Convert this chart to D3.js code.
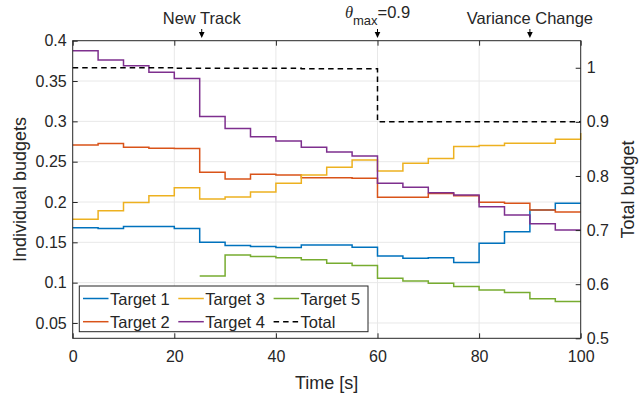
<!DOCTYPE html>
<html>
<head>
<meta charset="utf-8">
<script src="https://cdn.jsdelivr.net/npm/d3@7"></script>
<style>
  body { margin: 0; background: #fff; }
  text { font-family: "Liberation Sans", Arial, sans-serif; fill: #262626; }
</style>
</head>
<body>
<script>
// time samples (every 5 s)
var time = [0, 5, 10, 15, 20, 25, 30, 35, 40, 45, 50, 55, 60, 65, 70, 75, 80, 85, 90, 95, 100];

// individual budgets
var target1 = [0.168, 0.167, 0.1695, 0.1695, 0.167, 0.150, 0.146, 0.1447, 0.1435, 0.1468, 0.1468, 0.144, 0.1332, 0.1303, 0.131, 0.125, 0.149, 0.163, 0.190, 0.1985, 0.1985];
var target2 = [0.2708, 0.2724, 0.268, 0.2667, 0.2662, 0.237, 0.2285, 0.2344, 0.2336, 0.2302, 0.230, 0.2295, 0.206, 0.206, 0.2105, 0.2076, 0.1998, 0.1985, 0.1902, 0.1877, 0.1877];
var target3 = [0.1787, 0.189, 0.1993, 0.2076, 0.2178, 0.2038, 0.2063, 0.2125, 0.2233, 0.2336, 0.2431, 0.2522, 0.2385, 0.248, 0.2538, 0.2687, 0.270, 0.2728, 0.2728, 0.2778, 0.2856];
var target4 = [0.3876, 0.376, 0.369, 0.361, 0.353, 0.306, 0.291, 0.281, 0.2757, 0.268, 0.262, 0.257, 0.2233, 0.2183, 0.2115, 0.2088, 0.194, 0.184, 0.1729, 0.1654, 0.1654];
var target5 = [null, null, null, null, null, 0.1084, 0.1344, 0.1323, 0.131, 0.1283, 0.1242, 0.1212, 0.1056, 0.1022, 0.0994, 0.0952, 0.091, 0.0877, 0.080, 0.0766, 0.0766];
// total budget (right axis)
var total = [1.0, 1.0, 1.0, 1.0, 0.999, 0.999, 0.999, 0.999, 0.999, 0.998, 0.998, 0.998, 0.9, 0.9, 0.9, 0.9, 0.9, 0.9, 0.9, 0.9, 0.9];

var seriesNames = ["Target 1", "Target 2", "Target 3", "Target 4", "Target 5"];
var colors = ["#0072BD", "#D95319", "#EDB120", "#7E2F8E", "#77AC30"];

var xTicks = [0, 20, 40, 60, 80, 100];
var yTicksLeft = [0.05, 0.1, 0.15, 0.2, 0.25, 0.3, 0.35, 0.4];
var yTicksRight = [0.5, 0.6, 0.7, 0.8, 0.9, 1];

// events marked above the plot
var events = [
  {t: 25.4, label: "New Track"},
  {t: 60, label: "theta"},
  {t: 90, label: "Variance Change"}
];

var W = 644, H = 395;
var margin = {top: 40.7, right: 63.3, bottom: 56.7, left: 72.7};
var width = W - margin.left - margin.right,
    height = H - margin.top - margin.bottom;

var x = d3.scaleLinear().domain([0, 100]).range([0, width]);
var yL = d3.scaleLinear().domain([0.031, 0.4]).range([height, 0]);
var yR = d3.scaleLinear().domain([0.5, 1.05]).range([height, 0]);

var svg = d3.select("body").append("svg")
    .attr("width", W)
    .attr("height", H);

var g = svg.append("g")
    .attr("transform", "translate(" + margin.left + "," + margin.top + ")");

// grid
g.append("g").selectAll("line").data(xTicks.slice(1, -1)).enter().append("line")
    .attr("x1", function(d) { return x(d); }).attr("x2", function(d) { return x(d); })
    .attr("y1", 0).attr("y2", height)
    .attr("stroke", "#e8e8e8").attr("stroke-width", 1);
g.append("g").selectAll("line").data(yTicksLeft.slice(0, -1)).enter().append("line")
    .attr("x1", 0).attr("x2", width)
    .attr("y1", function(d) { return yL(d); }).attr("y2", function(d) { return yL(d); })
    .attr("stroke", "#e8e8e8").attr("stroke-width", 1);

// lines
var lineL = d3.line()
    .defined(function(d) { return d.v != null; })
    .x(function(d) { return x(d.t); })
    .y(function(d) { return yL(d.v); })
    .curve(d3.curveStepAfter);

var all = [target1, target2, target3, target4, target5];
all.forEach(function(s, i) {
  var pts = time.map(function(t, j) { return {t: t, v: s[j]}; });
  g.append("path")
      .datum(pts)
      .attr("fill", "none")
      .attr("stroke", colors[i])
      .attr("stroke-width", 1.5)
      .attr("d", lineL);
});

var lineR = d3.line()
    .x(function(d) { return x(d.t); })
    .y(function(d) { return yR(d.v); })
    .curve(d3.curveStepAfter);

g.append("path")
    .datum(time.map(function(t, j) { return {t: t, v: total[j]}; }))
    .attr("fill", "none")
    .attr("stroke", "#000")
    .attr("stroke-width", 1.5)
    .attr("stroke-dasharray", "5.5,4")
    .attr("d", lineR);

// axes
var axisColor = "#262626";
function styleAxis(sel) {
  sel.select(".domain").remove();
  sel.selectAll(".tick line").attr("stroke", axisColor);
  sel.selectAll(".tick text").attr("font-size", "16px").attr("fill", axisColor)
      .style("font-family", "'Liberation Sans', Arial, sans-serif");
}

g.append("g")
    .attr("transform", "translate(0," + height + ")")
    .call(d3.axisBottom(x).tickValues(xTicks).tickSizeInner(-5).tickSizeOuter(0).tickPadding(12))
    .call(styleAxis);
g.append("g")
    .call(d3.axisTop(x).tickValues(xTicks).tickSizeInner(-5).tickSizeOuter(0).tickFormat(""))
    .call(styleAxis);
g.append("g")
    .call(d3.axisLeft(yL).tickValues(yTicksLeft).tickSizeInner(-5).tickSizeOuter(0).tickPadding(6)
      .tickFormat(function(d) { return d3.format("")(+d.toFixed(2)); }))
    .call(styleAxis);
g.append("g")
    .attr("transform", "translate(" + width + ",0)")
    .call(d3.axisRight(yR).tickValues(yTicksRight).tickSizeInner(-5).tickSizeOuter(0).tickPadding(6)
      .tickFormat(function(d) { return d3.format("")(+d.toFixed(1)); }))
    .call(styleAxis);

// frame
g.append("rect")
    .attr("x", 0).attr("y", 0).attr("width", width).attr("height", height)
    .attr("fill", "none").attr("stroke", axisColor).attr("stroke-width", 1);

// axis labels
svg.append("text")
    .attr("x", margin.left + width / 2).attr("y", 389)
    .attr("text-anchor", "middle").attr("font-size", "18px")
    .text("Time [s]");
svg.append("text")
    .attr("transform", "translate(26," + (margin.top + height / 2) + ") rotate(-90)")
    .attr("text-anchor", "middle").attr("font-size", "18px")
    .text("Individual budgets");
svg.append("text")
    .attr("transform", "translate(634," + (margin.top + height / 2) + ") rotate(-90)")
    .attr("text-anchor", "middle").attr("font-size", "18px")
    .text("Total budget");

// event markers
events.forEach(function(e) {
  var ex = margin.left + x(e.t);
  svg.append("line")
      .attr("x1", ex).attr("x2", ex).attr("y1", 29).attr("y2", 33)
      .attr("stroke", "#000").attr("stroke-width", 1);
  svg.append("path")
      .attr("d", "M" + (ex - 2.8) + ",32 L" + (ex + 2.8) + ",32 L" + ex + ",38 Z")
      .attr("fill", "#000");
  if (e.label === "theta") {
    var t = svg.append("text").attr("x", ex).attr("y", 18)
        .attr("text-anchor", "middle").attr("font-size", "16.5px");
    t.append("tspan").attr("font-style", "italic")
        .style("font-family", "'Liberation Serif', 'Times New Roman', serif").text("θ");
    t.append("tspan").attr("dy", 7).attr("font-size", "13px").text("max");
    t.append("tspan").attr("dy", -7).text("=0.9");
  } else {
    svg.append("text").attr("x", ex).attr("y", 24)
        .attr("text-anchor", "middle").attr("font-size", "16.5px")
        .text(e.label);
  }
});

// legend
var legend = svg.append("g");
legend.append("rect")
    .attr("x", 79.3).attr("y", 286).attr("width", 288.7).attr("height", 45.7)
    .attr("fill", "#fff").attr("stroke", axisColor).attr("stroke-width", 1);

var legendItems = [
  {name: seriesNames[0], color: colors[0], dash: null},
  {name: seriesNames[2], color: colors[2], dash: null},
  {name: seriesNames[4], color: colors[4], dash: null},
  {name: seriesNames[1], color: colors[1], dash: null},
  {name: seriesNames[3], color: colors[3], dash: null},
  {name: "Total", color: "#000", dash: "5.5,4"}
];
legendItems.forEach(function(d, i) {
  var col = i % 3, row = Math.floor(i / 3);
  var lx = 83 + col * 95.3, ly = 298.5 + row * 23.2;
  legend.append("line")
      .attr("x1", lx).attr("x2", lx + 25.5).attr("y1", ly).attr("y2", ly)
      .attr("stroke", d.color).attr("stroke-width", 1.5)
      .attr("stroke-dasharray", d.dash);
  legend.append("text")
      .attr("x", lx + 27).attr("y", ly + 6)
      .attr("font-size", "16.5px")
      .text(d.name);
});
</script>
</body>
</html>
